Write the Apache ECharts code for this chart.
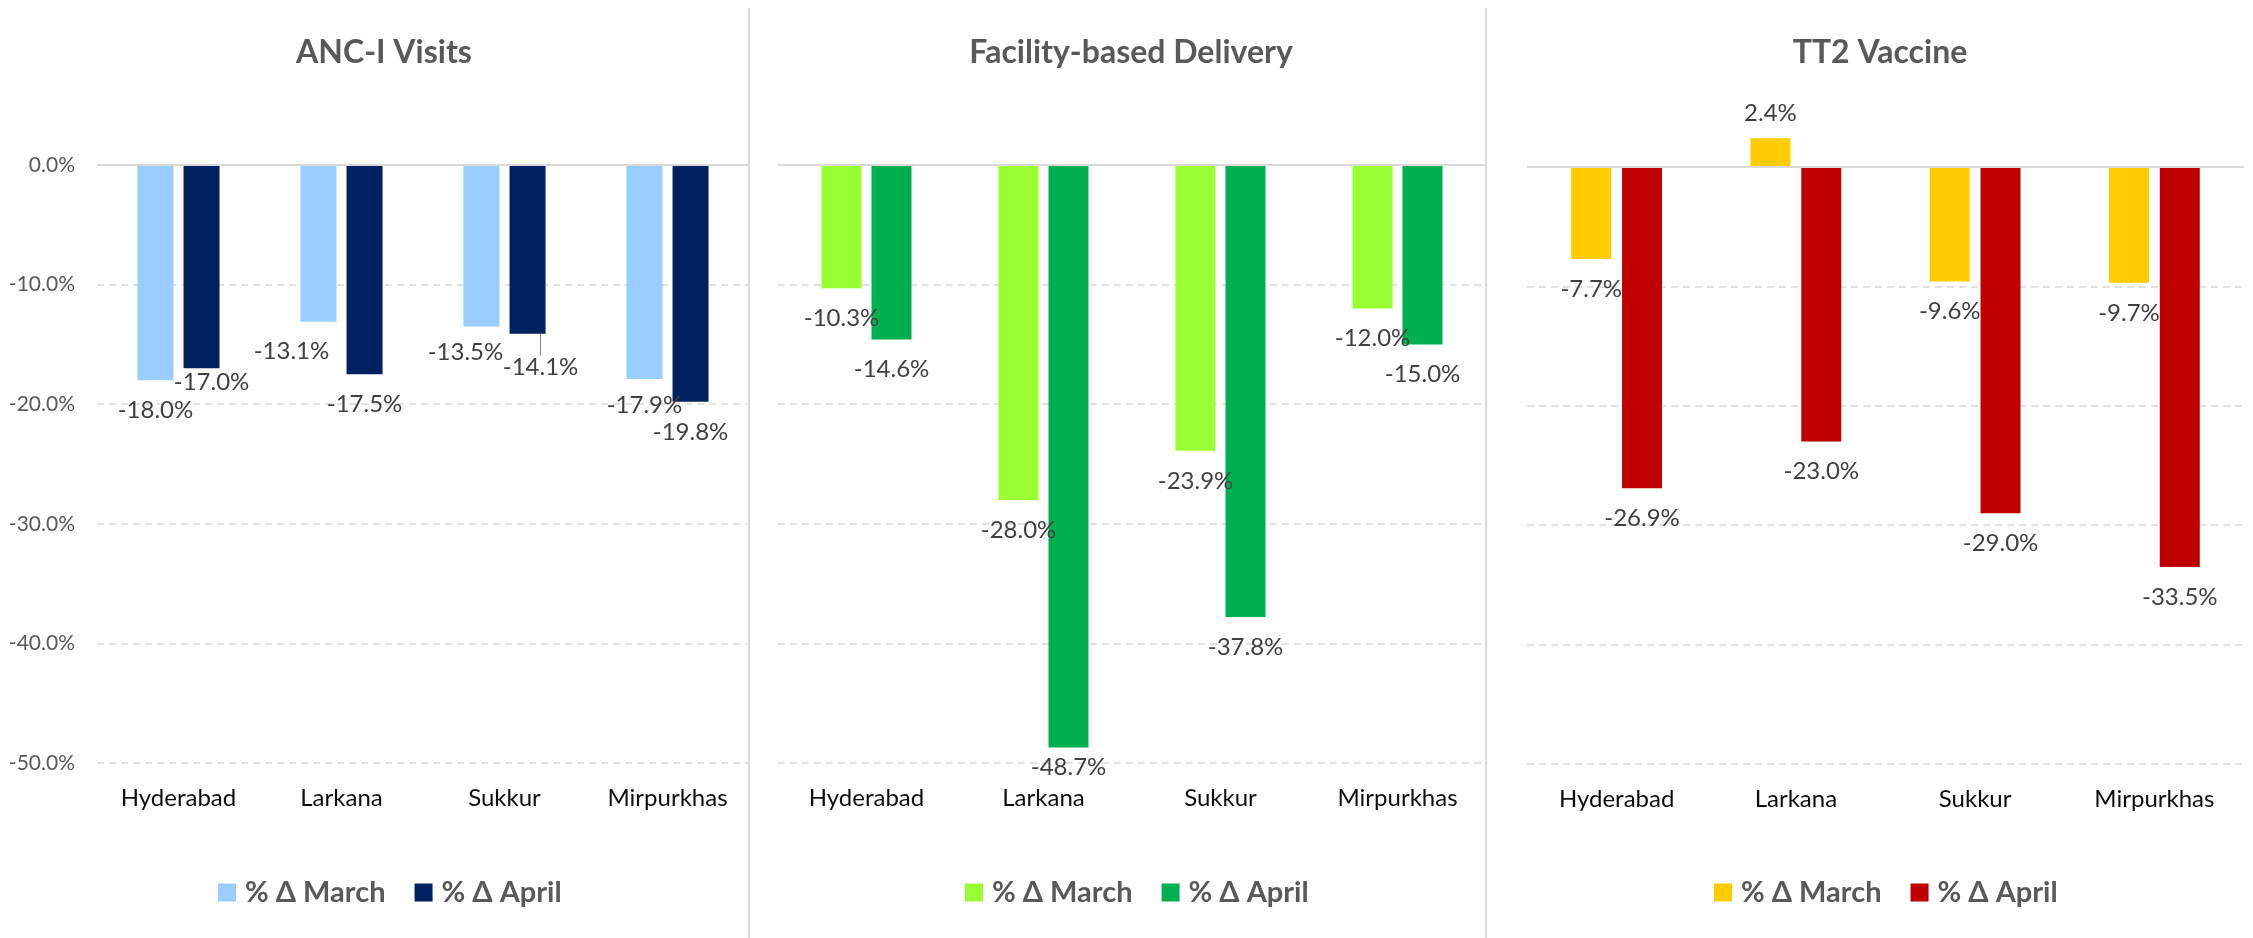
<!DOCTYPE html>
<html>
<head>
<meta charset="utf-8">
<title>% change in March / April by division</title>
<script src="https://cdn.jsdelivr.net/npm/echarts@6/dist/echarts.min.js"></script>
<style>
  html, body { margin: 0; padding: 0; background: #fff; }
  #chart { width: 2253px; height: 938px; }
</style>
</head>
<body>
<div id="chart"></div>
<script>
// categories
var divisions = ['Hyderabad', 'Larkana', 'Sukkur', 'Mirpurkhas'];
var legendNames = ['% Δ March', '% Δ April'];
var panelTitles = ['ANC-I Visits', 'Facility-based Delivery', 'TT2 Vaccine'];

// % change
var ancMarch = [-18.0, -13.1, -13.5, -17.9];
var ancApril = [-17.0, -17.5, -14.1, -19.8];
var deliveryMarch = [-10.3, -28.0, -23.9, -12.0];
var deliveryApril = [-14.6, -48.7, -37.8, -15.0];
var tt2March = [-7.7, 2.4, -9.6, -9.7];
var tt2April = [-26.9, -23.0, -29.0, -33.5];

// value axis
var yMin = -50, yMax = 0, yStep = 10;

var FONT = 'Lato, "Open Sans", sans-serif';
var GRID_LINE = '#D9D9D9';

// layout of the three small charts
var panels = [
    {
        title: panelTitles[0], march: ancMarch, april: ancApril,
        colors: ['#99CCFF', '#002060'],
        grid: { left: 97, top: 165, width: 652, height: 598 },
        barWidth: 36, barGap: '28%', titleX: 384, legendX: 218, showY: true,
        // label nudges [dx, dy] where the original labels were dragged by hand
        nudgeMarch: [[0, 0], [-27, 0], [-16, -4], [0, -4]],
        nudgeApril: [[10, -16], [0, 0], [13, 4], [0, 0]],
        leader: [2]
    },
    {
        title: panelTitles[1], march: deliveryMarch, april: deliveryApril,
        colors: ['#99FF33', '#00B050'],
        grid: { left: 778, top: 165, width: 708, height: 598 },
        barWidth: 40, barGap: '25%', titleX: 1131, legendX: 965, showY: false,
        nudgeMarch: [[0, 0], [0, 0], [0, 0], [0, 0]],
        nudgeApril: [[0, 0], [0, -10], [0, 0], [0, 0]],
        leader: []
    },
    {
        title: panelTitles[2], march: tt2March, april: tt2April,
        colors: ['#FFCC00', '#C00000'],
        grid: { left: 1527, top: 167, width: 717, height: 597 },
        barWidth: 40, barGap: '27%', titleX: 1880, legendX: 1714, showY: false,
        nudgeMarch: [[0, 0], [0, 0], [0, 0], [0, 0]],
        nudgeApril: [[0, 0], [0, 0], [0, 0], [0, 0]],
        leader: []
    }
];

function pct(v) { return v.toFixed(1) + '%'; }

function barData(values, leader) {
    return values.map(function (v, i) {
        var item = { value: v };
        if (v > 0) item.label = { position: 'top', distance: 13 };
        if (leader.indexOf(i) >= 0) {
            item.labelLine = { show: true, lineStyle: { color: '#7F7F7F', width: 1 } };
        }
        return item;
    });
}

var grids = [], xAxes = [], yAxes = [], series = [], legends = [], graphics = [];

panels.forEach(function (p, k) {
    grids.push(p.grid);
    xAxes.push({
        type: 'category', gridIndex: k, data: divisions,
        axisLine: { show: false }, axisTick: { show: false },
        axisLabel: { color: '#0D0D0D', fontFamily: FONT, fontSize: 24, margin: 23 }
    });
    yAxes.push({
        type: 'value', gridIndex: k, min: yMin, max: yMax, interval: yStep,
        axisLine: { show: false }, axisTick: { show: false },
        axisLabel: {
            show: p.showY, color: '#595959', fontFamily: FONT, fontSize: 21, margin: 22,
            formatter: function (v) { return pct(v); }
        },
        splitLine: { lineStyle: { color: GRID_LINE, type: [7, 5], width: 1.5 } }
    });

    var pairs = [[p.march, p.nudgeMarch], [p.april, p.nudgeApril]];
    pairs.forEach(function (pair, j) {
        var nudge = pair[1];
        var s = {
            type: 'bar', name: 'p' + k + 's' + j,
            xAxisIndex: k, yAxisIndex: k,
            data: barData(pair[0], j === 1 ? p.leader : []),
            barWidth: p.barWidth, barGap: p.barGap,
            clip: false,
            itemStyle: { color: p.colors[j] },
            label: {
                show: true, position: 'bottom', distance: 18,
                color: '#404040', fontFamily: FONT, fontSize: 24,
                formatter: function (d) { return pct(d.value); }
            },
            labelLayout: function (d) {
                var n = nudge[d.dataIndex];
                return { dx: n[0], dy: n[1] };
            }
        };
        if (j === 0) {
            // solid horizontal axis at 0%
            s.markLine = {
                silent: true, symbol: 'none', label: { show: false },
                lineStyle: { color: GRID_LINE, type: 'solid', width: 2 },
                data: [{ yAxis: 0 }]
            };
        }
        series.push(s);
    });

    legends.push({
        left: p.legendX, top: 878, padding: 0,
        itemWidth: 18, itemHeight: 18, itemGap: 29, icon: 'rect',
        data: ['p' + k + 's0', 'p' + k + 's1'],
        formatter: function (name) { return legendNames[+name.slice(-1)]; },
        textStyle: { color: '#595959', fontFamily: FONT, fontWeight: 'bold', fontSize: 29, padding: [0, 0, 0, 4] }
    });

    graphics.push({
        type: 'text', x: p.titleX, y: 53,
        style: {
            text: p.title, fill: '#595959', font: 'bold 32px ' + FONT,
            textAlign: 'center', textVerticalAlign: 'middle',
            align: 'center', verticalAlign: 'middle'
        }
    });
});

// thin borders between the three charts
[749, 1486].forEach(function (x) {
    graphics.push({
        type: 'line', shape: { x1: x, y1: 8, x2: x, y2: 938 },
        style: { stroke: GRID_LINE, lineWidth: 2 }
    });
});

var myChart = echarts.init(document.getElementById('chart'));
myChart.setOption({
    animation: false,
    backgroundColor: '#fff',
    grid: grids,
    xAxis: xAxes,
    yAxis: yAxes,
    legend: legends,
    graphic: graphics,
    series: series
});
</script>
</body>
</html>
